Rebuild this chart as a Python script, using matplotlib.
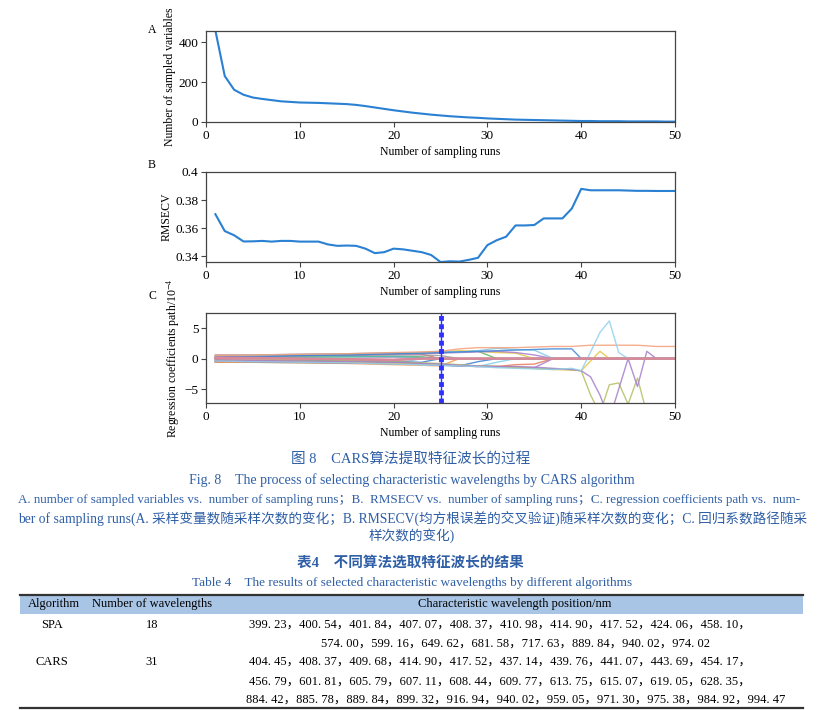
import matplotlib
matplotlib.use('Agg')
import matplotlib.pyplot as plt

plt.rcParams['font.family'] = ['Liberation Serif', 'Noto Sans CJK SC']
plt.rcParams['mathtext.fontset'] = 'stix'
plt.rcParams['axes.unicode_minus'] = True

W, H = 823, 710

# Painel A e B: uma amostra por rodada
runs = list(range(1, 51))
n_variables = [460, 231, 162, 137, 123, 116, 110, 104, 101, 98,
               97, 96, 94, 92, 90, 86, 80, 73, 66, 59,
               53, 47, 42, 37, 33, 29, 26, 23, 21, 18,
               16, 14, 12, 11, 10, 9, 8, 7, 6, 5,
               5, 4, 4, 4, 3, 3, 3, 3, 2, 2]
rmsecv = [0.370, 0.358, 0.355, 0.3506, 0.3507, 0.3510, 0.3505, 0.3510, 0.3510, 0.3505,
          0.3505, 0.3505, 0.3485, 0.3475, 0.3477, 0.3475, 0.3455, 0.3423, 0.3430, 0.3455,
          0.3450, 0.3440, 0.3430, 0.3410, 0.3360, 0.3365, 0.3363, 0.3375, 0.3390, 0.3480,
          0.3515, 0.3540, 0.3620, 0.3620, 0.3623, 0.3670, 0.3670, 0.3670, 0.3740, 0.3880,
          0.3870, 0.3870, 0.3870, 0.3870, 0.3868, 0.3866, 0.3866, 0.3865, 0.3865, 0.3865]

# Painel C: caminhos dos coeficientes (x10^-4) nos vertices abaixo
coef_runs = [1, 5, 10, 15, 20, 23, 25, 27, 29, 31, 33, 35, 37, 39, 40, 41, 42, 43, 44, 45, 46, 47, 48, 50]
path_b1 = [0.6, 0.6, 0.7, 0.8, 0.9, 0.7, 0, 0, 0, 0, 0, 0, 0, 0, 0, 0, 0, 0, 0, 0, 0, 0, 0, 0]
path_b2 = [-0.6, -0.6, -0.7, -0.7, -0.9, 0, 0, 0, 0, 0, 0, 0, 0, 0, 0, 0, 0, 0, 0, 0, 0, 0, 0, 0]
path_b3 = [0.2, 0.2, 0.3, 0.3, 0.4, 0.3, 0, 0, 0, 0, 0, 0, 0, 0, 0, 0, 0, 0, 0, 0, 0, 0, 0, 0]
path_b4 = [-0.1, -0.2, -0.2, -0.3, -0.3, 0, 0, 0, 0, 0, 0, 0, 0, 0, 0, 0, 0, 0, 0, 0, 0, 0, 0, 0]
path_b5 = [0.4, 0.4, 0.5, 0.5, 0.6, 0.6, 0.5, 0, 0, 0, 0, 0, 0, 0, 0, 0, 0, 0, 0, 0, 0, 0, 0, 0]
path_b6 = [-0.2, -0.1, -0.1, 0.0, 0.2, 0, 0, 0, 0, 0, 0, 0, 0, 0, 0, 0, 0, 0, 0, 0, 0, 0, 0, 0]
path_b7 = [0.0, 0.1, 0.2, 0.3, 0.3, 0.2, 0, 0, 0, 0, 0, 0, 0, 0, 0, 0, 0, 0, 0, 0, 0, 0, 0, 0]
path_b8 = [-0.5, -0.4, -0.4, -0.3, -0.5, -0.6, 0, 0, 0, 0, 0, 0, 0, 0, 0, 0, 0, 0, 0, 0, 0, 0, 0, 0]
path_orange2 = [-0.6, -0.6, -0.7, -0.8, -1.0, -1.1, -1.2, 0, 0, 0, 0, 0, 0, 0, 0, 0, 0, 0, 0, 0, 0, 0, 0, 0]
path_blue2 = [-0.4, -0.5, -0.6, -0.7, -0.8, -0.9, -1.0, -1.2, -0.5, 0, 0, 0, 0, 0, 0, 0, 0, 0, 0, 0, 0, 0, 0, 0]
path_cyan = [-0.3, -0.4, -0.5, -0.6, -0.8, -1.0, -1.1, -1.2, -1.3, -0.6, 0, 0, 0, 0, 0, 0, 0, 0, 0, 0, 0, 0, 0, 0]
path_red = [-0.5, -0.5, -0.6, -0.7, -0.8, -0.9, -1.0, -1.2, -1.3, -1.3, -1.0, -0.9, 0, 0, 0, 0, 0, 0, 0, 0, 0, 0, 0, 0]
path_purple3 = [-0.3, -0.4, -0.5, -0.6, -0.8, -0.9, -1.1, -1.2, -1.3, -1.3, -1.4, -1.5, 0, 0, 0, 0, 0, 0, 0, 0, 0, 0, 0, 0]
path_green = [0.3, 0.4, 0.5, 0.6, 0.8, 0.9, 1.0, 1.1, 1.2, 0, 0, 0, 0, 0, 0, 0, 0, 0, 0, 0, 0, 0, 0, 0]
path_yellow2 = [0.4, 0.5, 0.6, 0.7, 0.8, 1.0, 1.1, 1.3, 1.2, 1.0, 0.9, 0, 0, 0, 0, 0, 0, 0, 0, 0, 0, 0, 0, 0]
path_purple2 = [0.3, 0.4, 0.5, 0.6, 0.7, 0.8, 0.9, 1.0, 1.1, 1.2, 1.0, 0.6, 0, 0, 0, 0, 0, 0, 0, 0, 0, 0, 0, 0]
path_sky2 = [0.5, 0.6, 0.7, 0.8, 0.9, 1.0, 1.2, 1.1, 1.3, 1.7, 1.5, 1.4, 0, 0, 0, 0, 0, 0, 0, 0, 0, 0, 0, 0]
path_blue = [0.2, 0.3, 0.5, 0.6, 0.8, 0.9, 1.0, 1.1, 1.2, 1.3, 1.4, 1.5, 1.6, 1.6, 0, 0, 0, 0, 0, 0, 0, 0, 0, 0]
path_orange = [0.5, 0.6, 0.7, 0.8, 1.0, 1.1, 1.2, 1.6, 1.8, 1.8, 1.8, 1.9, 2.0, 2.0, 2.1, 2.2, 2.2, 2.2, 2.2, 2.2, 2.2, 2.1, 2.0, 2.0]
path_yellow = [-0.2, -0.3, -0.4, -0.6, -0.8, -0.9, -1.0, -1.1, -1.2, -1.3, -1.5, -1.6, -1.8, -1.9, -2.0, -0.4, 1.2, 0, 0, 0, 0, 0, 0, 0]
path_olive = [0.1, 0.0, -0.2, -0.3, -0.5, -0.7, -0.8, -1.0, -1.2, -1.3, -1.4, -1.6, -1.7, -1.8, -2.0, -6.0, -9.0, -4.3, -4.0, -7.5, -3.2, -9.0, -9.0, -9.0]
path_purple = [-0.2, -0.3, -0.4, -0.5, -0.6, -0.8, -0.9, -1.1, -1.2, -1.3, -1.3, -1.4, -1.6, -1.8, -2.0, -3.0, -6.0, -10.0, -5.0, 0, -4.6, 1.2, 0, 0]
path_sky = [-0.4, -0.5, -0.6, -0.7, -0.9, -1.0, -1.1, -1.2, -1.3, -1.5, -1.6, -1.7, -1.8, -1.6, -2.0, 1.1, 4.3, 6.2, 1.0, 0, 0, 0, 0, 0]
path_pink = [0.1, 0.1, 0.0, -0.1, -0.2, 0, 0, 0, 0, 0, 0, 0, 0, 0, 0, 0, 0, 0, 0, 0, 0, 0, 0, 0]
optimal_run = 25

coef_paths = [
    (path_b1, '#e07070'), (path_b2, '#7fc8ec'), (path_b3, '#66b866'), (path_b4, '#a7826c'),
    (path_b5, '#9a9a9a'), (path_b6, '#e69ccf'), (path_b7, '#4fb8b8'), (path_b8, '#3d7fcf'),
    (path_orange2, '#f59a55'), (path_blue2, '#3d7fcf'), (path_cyan, '#7fd0ec'), (path_red, '#e87a5a'),
    (path_purple3, '#a57dcc'), (path_green, '#5fb85f'), (path_yellow2, '#e8c440'), (path_purple2, '#a57dcc'),
    (path_sky2, '#7fc8ec'), (path_blue, '#3d86d6'), (path_orange, '#f3a07a'), (path_yellow, '#e8c440'),
    (path_olive, '#b3c060'), (path_purple, '#a57dcc'), (path_sky, '#8fd0f0'), (path_pink, '#d98a9a'),
]

# Tabela 4
algorithms = ['SPA', 'CARS']
n_wavelengths = [18, 31]
spa_wavelengths = [399.23, 400.54, 401.84, 407.07, 408.37, 410.98, 414.90, 417.52, 424.06, 458.10,
                   574.00, 599.16, 649.62, 681.58, 717.63, 889.84, 940.02, 974.02]
cars_wavelengths = [404.45, 408.37, 409.68, 414.90, 417.52, 437.14, 439.76, 441.07, 443.69, 454.17,
                    456.79, 601.81, 605.79, 607.11, 608.44, 609.77, 613.75, 615.07, 619.05, 628.35,
                    884.42, 885.78, 889.84, 899.32, 916.94, 940.02, 959.05, 971.30, 975.38, 984.92, 994.47]
spa_line_sizes = [10, 8]
cars_line_sizes = [10, 10, 11]

LINE = '#2a80d2'
SPINE = '#444444'
CAPTION = '#2f5fa6'


def rect(left, top, right, bottom):
    return [left / W, 1 - bottom / H, (right - left) / W, (bottom - top) / H]


def style_axes(ax):
    for s in ax.spines.values():
        s.set_color(SPINE)
        s.set_linewidth(0.9)
    ax.tick_params(labelsize=9.5, length=3.5, width=0.8, color=SPINE, pad=2)
    ax.set_xlim(0, 50)
    ax.set_xticks([0, 10, 20, 30, 40, 50])
    ax.set_xlabel('Number of sampling runs', fontsize=8.5, labelpad=3)


fig = plt.figure(figsize=(W / 100, H / 100), dpi=100)

# Camada de fundo em pixels para legendas e tabela
axt = fig.add_axes([0, 0, 1, 1])
axt.set_xlim(0, W)
axt.set_ylim(H, 0)
axt.axis('off')

# A
axA = fig.add_axes(rect(206, 30.5, 675, 122))
axA.plot(runs, n_variables, color=LINE, lw=1.5)
axA.set_ylim(0, 460)
axA.set_yticks([0, 200, 400])
style_axes(axA)
axA.set_ylabel('Number of sampled variables', fontsize=8.5, labelpad=2)

# B
axB = fig.add_axes(rect(206, 172, 675, 262))
axB.plot(runs, rmsecv, color=LINE, lw=1.5)
axB.set_ylim(0.336, 0.4)
axB.set_yticks([0.34, 0.36, 0.38, 0.4])
axB.set_yticklabels(['0.34', '0.36', '0.38', '0.4'])
style_axes(axB)
axB.set_ylabel('RMSECV', fontsize=8.5, labelpad=2)

# C
axC = fig.add_axes(rect(206, 313, 675, 403))
for vals, col in coef_paths:
    axC.plot(coef_runs, vals, color=col, lw=1.0, alpha=0.85)
axC.plot(coef_runs, path_pink, color='#d98a9a', lw=1.8)
axC.axvline(optimal_run, color='#3030ff', lw=1.0)
axC.axvline(optimal_run, color='#3030ff', lw=3.5, ls=(0, (1, 0.7)))
axC.set_ylim(-7.3, 7.5)
axC.set_yticks([-5, 0, 5])
style_axes(axC)
axC.set_ylabel('Regression coefficients path/10$^{-4}$', fontsize=8.5, labelpad=2)

for lab, y in [('A', 30), ('B', 165), ('C', 296)]:
    axt.text(152, y, lab, fontsize=8.5, ha='center', va='center')

# Legenda da figura
axt.text(411, 459, '图 8　CARS算法提取特征波长的过程', fontsize=10.5, color=CAPTION, ha='center', va='center')
axt.text(412, 480, 'Fig. 8　The process of selecting characteristic wavelengths by CARS algorithm',
         fontsize=10, color=CAPTION, ha='center', va='center')
axt.text(18, 500, 'A. number of sampled variables vs.  number of sampling runs；B.  RMSECV vs.  number of sampling runs；'
         'C. regression coefficients path vs.  num-', fontsize=9.4, color=CAPTION, ha='left', va='center')
axt.text(18, 518, 'ber of sampling runs(A. 采样变量数随采样次数的变化；B. RMSECV(均方根误差的交叉验证)随采样次数的变化；C. 回归系数路径随采',
         fontsize=9.8, color=CAPTION, ha='left', va='center')
axt.text(412, 536, '样次数的变化)', fontsize=9.8, color=CAPTION, ha='center', va='center')

# Tabela
axt.text(410, 563, '表4　不同算法选取特征波长的结果', fontsize=10.5, color=CAPTION, ha='center', va='center',
         fontweight='bold')
axt.text(412, 583, 'Table 4　The results of selected characteristic wavelengths by different algorithms',
         fontsize=9.5, color=CAPTION, ha='center', va='center')
axt.fill_between([20, 803], 595, 614, color='#a9c5e6', lw=0)
axt.plot([20, 803], [595, 595], color='#333333', lw=1.6)
axt.plot([20, 803], [708, 708], color='#333333', lw=1.6)
axt.text(54, 604, 'Algorithm', fontsize=9, ha='center', va='center')
axt.text(152, 604, 'Number of wavelengths', fontsize=9, ha='center', va='center')
axt.text(515, 604, 'Characteristic wavelength position/nm', fontsize=9, ha='center', va='center')


def wave_lines(values, sizes):
    out, i = [], 0
    for k, n in enumerate(sizes):
        chunk = [f'{v:.2f}'.replace('.', '. ') for v in values[i:i + n]]
        i += n
        txt = '，'.join(chunk)
        last = k == len(sizes) - 1
        if not last:
            txt += '，'
        out.append((txt, last))
    return out


row_groups = [(wave_lines(spa_wavelengths, spa_line_sizes), [625, 644]),
              (wave_lines(cars_wavelengths, cars_line_sizes), [662, 682, 700])]
for alg, n, (lines, ys) in zip(algorithms, n_wavelengths, row_groups):
    axt.text(52, ys[0], alg, fontsize=9, ha='center', va='center')
    axt.text(152, ys[0], str(n), fontsize=9, ha='center', va='center')
    for (txt, last), y in zip(lines, ys):
        axt.text(516 if last else 500, y, txt, fontsize=9, ha='center', va='center')

fig.savefig('out.png', dpi=100)
